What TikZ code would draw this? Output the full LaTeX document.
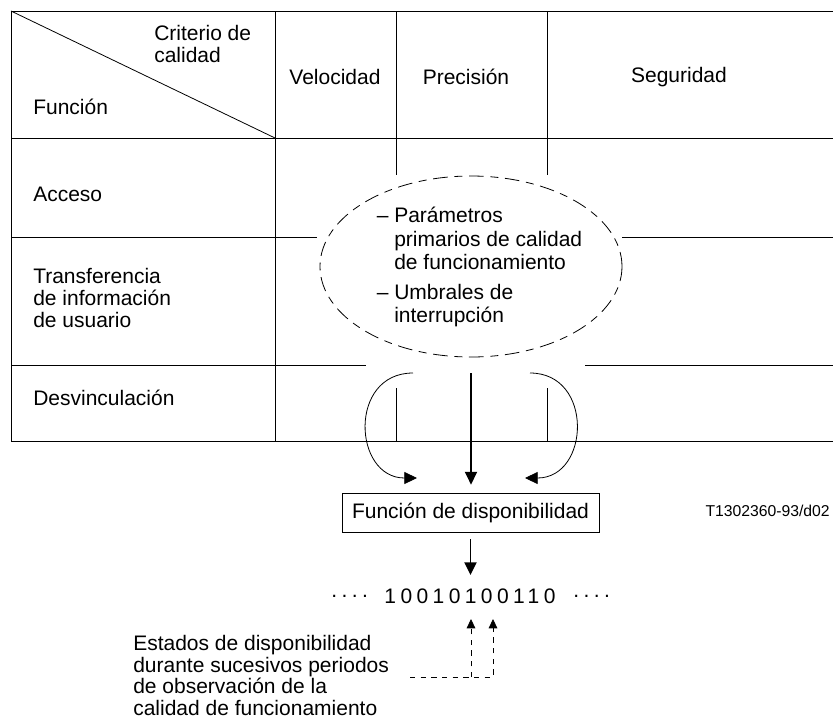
\documentclass[tikz,border=0pt]{standalone}
\usepackage{fontspec}
\setmainfont{Liberation Sans}
\usepackage{tikz}
\usetikzlibrary{positioning,arrows.meta,shapes.geometric}

\begin{document}
\begin{tikzpicture}[x=0.75pt,y=0.75pt,yscale=-1,xscale=1,
  font=\fontsize{15.75pt}{16.3pt}\selectfont,
  grid/.style={line width=0.6pt},
  txt/.style={inner sep=0pt,align=left},
  arr/.style={line width=0.6pt,-{Triangle[length=9.5pt,width=9pt]}},
  obsarr/.style={line width=0.6pt,dash pattern=on 4pt off 4pt,-{Triangle[length=7pt,width=6.5pt]}}]
\useasboundingbox (0,0) rectangle (833,719);

%Shape: Table
\draw[grid] (11,11) -- (833,11);
\draw[grid] (11,138) -- (833,138);
\draw[grid] (11,441) -- (833,441);
\draw[grid] (11,11) -- (11,441);
\draw[grid] (275,11) -- (275,441);
\draw[grid] (11,11) -- (275,138);
%Straight Lines: cut round the ellipse
\draw[grid] (11,237) -- (317,237) (622,237) -- (833,237);
\draw[grid] (11,365) -- (366,365) (585,365) -- (833,365);
\foreach \cx in {396,547}
  \draw[grid] (\cx,11) -- (\cx,175) (\cx,388) -- (\cx,441);

% Text Node
\node[txt,anchor=west] (crit) at (154,44) {Criterio de\\calidad};
% Text Node
\node[txt,anchor=west] (func) at (33,107) {Función};
% Text Node
\node[txt] (veloc) at (335,77) {Velocidad};
% Text Node
\node[txt] (prec) at (466,77) {Precisión};
% Text Node
\node[txt] (segur) at (679,77) {Seguridad};
% Text Node
\node[txt,anchor=west] (acceso) at (33,194) {Acceso};
% Text Node
\node[txt,anchor=west] (transf) at (33,298) {Transferencia\\de información\\de usuario};
% Text Node
\node[txt,anchor=west] (desv) at (33,398) {Desvinculación};

%Shape: Ellipse
\node[ellipse,draw,line width=0.6pt,dash pattern=on 11pt off 5pt on 6pt off 5pt,
  minimum width=226.5pt,minimum height=135.75pt,inner sep=0pt] (param) at (471,266.5) {};
% Text Node
\node[txt,font=\fontsize{15.75pt}{17.5pt}\selectfont] (paramtxt) at (479.5,268)
  {\begin{tabular}{@{}l@{\ }l@{}}–&Parámetros\\&primarios de calidad\\&de funcionamiento\\[5pt]
   –&Umbrales de\\&interrupción\end{tabular}};

%Shape: Rectangle
\node[draw,line width=0.6pt,minimum width=192.75pt,minimum height=29.25pt,inner sep=0pt] (dispo) at (470.5,512.5) {Función de disponibilidad};

\coordinate (src) at (471,373);
\coordinate (srcL) at (413,373);
\coordinate (tipL) at (417,478);
\coordinate (srcR) at (530,373);
\coordinate (tipR) at (525,478);

%Curve Lines
\draw[arr] (srcL) .. controls (348,373) and (353,478) .. (tipL);
\draw[arr] (srcR) .. controls (594,373) and (590,478) .. (tipR);
%Straight Lines
\draw[arr,line width=1.4pt,shorten >=6pt] (src) -- (src |- dispo.north);

% Text Node
\node[txt] (bits) at (470,596) {\addfontfeature{LetterSpace=21}10010100110};
\node[txt,left=12pt of bits] (dotsL) {\addfontfeature{LetterSpace=21}....};
\node[txt,right=13pt of bits] (dotsR) {\addfontfeature{LetterSpace=21}....};

\draw[arr,line width=1.4pt,shorten <=5.25pt,shorten >=10pt] (dispo.south) -- (dispo.south |- bits.north);

% Text Node
\node[txt,anchor=east,font=\fontsize{11.8pt}{13pt}\selectfont] (fig) at (830,511) {T1302360-93/d02};

\coordinate (bitA) at (471,619);
\coordinate (bitB) at (493,619);
\coordinate (obs) at (410,677);
\draw[obsarr] (obs) -| (bitB);
\draw[obsarr] (bitA |- obs) -- (bitA);

% Text Node
\node[txt,anchor=west] (estados) at (133,675.5) {Estados de disponibilidad\\durante sucesivos periodos\\de observación de la\\calidad de funcionamiento};
\end{tikzpicture}
\end{document}
